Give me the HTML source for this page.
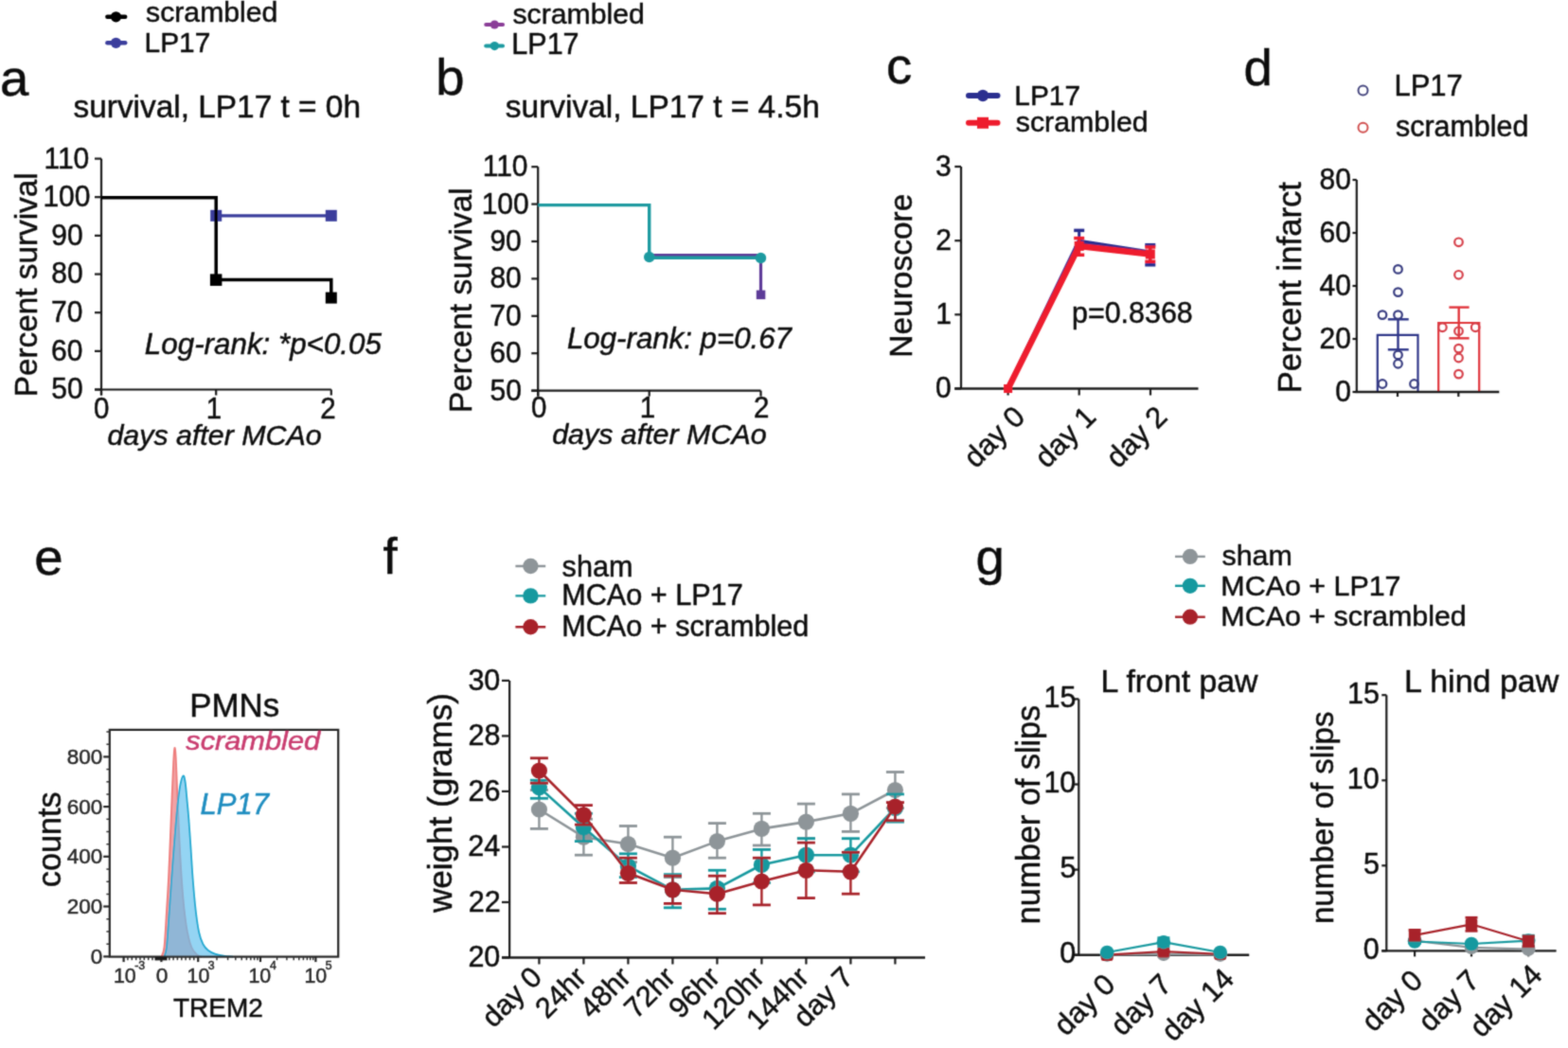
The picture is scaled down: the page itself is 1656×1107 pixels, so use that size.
<!DOCTYPE html>
<html><head><meta charset="utf-8"><title>Figure</title>
<style>
html,body{margin:0;padding:0;background:#fff;overflow:hidden;}
svg{display:block;}
text{font-family:'Liberation Sans', Arial, Helvetica, sans-serif;}
</style></head>
<body>
<svg width="1656" height="1107" viewBox="0 0 1656 1107">
<defs><filter id="soft" x="0" y="0" width="1656" height="1107" filterUnits="userSpaceOnUse"><feConvolveMatrix order="3" kernelMatrix="0.0622 0.2494 0.0622 0.2494 1.0000 0.2494 0.0622 0.2494 0.0622" edgeMode="none"/></filter></defs>
<rect width="1656" height="1107" fill="#fff"/>
<g filter="url(#soft)">
<line x1="113.4" y1="17.8" x2="132.2" y2="17.8" stroke="#000" stroke-width="4.5" stroke-linecap="round"/>
<circle cx="122.5" cy="17.8" r="5.6" fill="#000" stroke="none" stroke-width="0"/>
<line x1="113.4" y1="45.3" x2="132.2" y2="45.3" stroke="#3a3d9c" stroke-width="4.5" stroke-linecap="round"/>
<circle cx="122.5" cy="45.3" r="5.6" fill="#3a3d9c" stroke="none" stroke-width="0"/>
<text transform="translate(154.09,23.00)" font-size="30.21" text-anchor="start" fill="#111" stroke="#111" stroke-width="0.5">scrambled</text>
<text transform="translate(152.61,55.00)" font-size="29.84" text-anchor="start" fill="#111" stroke="#111" stroke-width="0.5">LP17</text>
<text transform="translate(0.12,100.60)" font-size="54.50" text-anchor="start" fill="#111" stroke="#111" stroke-width="0.5">a</text>
<text transform="translate(77.50,124.00)" font-size="33.40" text-anchor="start" fill="#111" stroke="#111" stroke-width="0.5">survival, LP17 t = 0h</text>
<line x1="107.0" y1="167.6" x2="107.0" y2="417.5" stroke="#1a1a1a" stroke-width="2.2" stroke-linecap="butt"/>
<line x1="100.0" y1="411.5" x2="349.8" y2="411.5" stroke="#1a1a1a" stroke-width="2.2" stroke-linecap="butt"/>
<line x1="100.0" y1="167.6" x2="107.0" y2="167.6" stroke="#1a1a1a" stroke-width="2.2" stroke-linecap="butt"/>
<text transform="translate(46.48,177.50) scale(1.000,1.040)" font-size="30.00" text-anchor="start" fill="#111" stroke="#111" stroke-width="0.5">110</text>
<line x1="100.0" y1="208.2" x2="107.0" y2="208.2" stroke="#1a1a1a" stroke-width="2.2" stroke-linecap="butt"/>
<text transform="translate(45.42,218.15) scale(1.000,1.040)" font-size="30.00" text-anchor="start" fill="#111" stroke="#111" stroke-width="0.5">100</text>
<line x1="100.0" y1="248.9" x2="107.0" y2="248.9" stroke="#1a1a1a" stroke-width="2.2" stroke-linecap="butt"/>
<text transform="translate(54.20,258.80) scale(1.000,1.040)" font-size="30.00" text-anchor="start" fill="#111" stroke="#111" stroke-width="0.5">90</text>
<line x1="100.0" y1="289.6" x2="107.0" y2="289.6" stroke="#1a1a1a" stroke-width="2.2" stroke-linecap="butt"/>
<text transform="translate(54.20,299.45) scale(1.000,1.040)" font-size="30.00" text-anchor="start" fill="#111" stroke="#111" stroke-width="0.5">80</text>
<line x1="100.0" y1="330.2" x2="107.0" y2="330.2" stroke="#1a1a1a" stroke-width="2.2" stroke-linecap="butt"/>
<text transform="translate(54.12,340.10) scale(1.000,1.040)" font-size="30.00" text-anchor="start" fill="#111" stroke="#111" stroke-width="0.5">70</text>
<line x1="100.0" y1="370.9" x2="107.0" y2="370.9" stroke="#1a1a1a" stroke-width="2.2" stroke-linecap="butt"/>
<text transform="translate(54.12,380.75) scale(1.000,1.040)" font-size="30.00" text-anchor="start" fill="#111" stroke="#111" stroke-width="0.5">60</text>
<line x1="100.0" y1="411.5" x2="107.0" y2="411.5" stroke="#1a1a1a" stroke-width="2.2" stroke-linecap="butt"/>
<text transform="translate(54.27,421.40) scale(1.000,1.040)" font-size="30.00" text-anchor="start" fill="#111" stroke="#111" stroke-width="0.5">50</text>
<line x1="107.0" y1="411.5" x2="107.0" y2="417.5" stroke="#1a1a1a" stroke-width="2.2" stroke-linecap="butt"/>
<line x1="228.2" y1="411.5" x2="228.2" y2="417.5" stroke="#1a1a1a" stroke-width="2.2" stroke-linecap="butt"/>
<line x1="349.8" y1="411.5" x2="349.8" y2="417.5" stroke="#1a1a1a" stroke-width="2.2" stroke-linecap="butt"/>
<text transform="translate(98.94,441.50) scale(1.000,1.040)" font-size="29.50" text-anchor="start" fill="#111" stroke="#111" stroke-width="0.5">0</text>
<text transform="translate(217.87,441.50) scale(1.000,1.040)" font-size="29.50" text-anchor="start" fill="#111" stroke="#111" stroke-width="0.5">1</text>
<text transform="translate(338.21,441.50) scale(1.000,1.040)" font-size="29.50" text-anchor="start" fill="#111" stroke="#111" stroke-width="0.5">2</text>
<text transform="translate(113.44,469.50)" font-size="30.38" text-anchor="start" fill="#111" stroke="#111" stroke-width="0.5" font-style="italic">days after MCAo</text>
<text transform="translate(38.80,419.26) rotate(-90)" font-size="33.31" text-anchor="start" fill="#111" stroke="#111" stroke-width="0.5">Percent survival</text>
<polyline points="228.2,227.8 349.8,227.8" fill="none" stroke="#3a3d9c" stroke-width="3.2" stroke-linejoin="miter" stroke-linecap="butt"/>
<rect x="222.2" y="221.8" width="12.0" height="12.0" fill="#3a3d9c" stroke="none" stroke-width="0"/>
<rect x="343.8" y="221.8" width="12.0" height="12.0" fill="#3a3d9c" stroke="none" stroke-width="0"/>
<polyline points="107.0,208.7 228.2,208.7 228.2,295.6 349.8,295.6 349.8,314.6" fill="none" stroke="#000" stroke-width="3.5" stroke-linejoin="miter" stroke-linecap="butt"/>
<rect x="221.9" y="289.4" width="12.5" height="12.5" fill="#000" stroke="none" stroke-width="0"/>
<rect x="343.8" y="308.6" width="12.0" height="12.0" fill="#000" stroke="none" stroke-width="0"/>
<text transform="translate(152.86,374.40)" font-size="31.35" text-anchor="start" fill="#111" stroke="#111" stroke-width="0.5" font-style="italic">Log-rank: *p&lt;0.05</text>
<line x1="513.2" y1="26.0" x2="531.0" y2="26.0" stroke="#8a3c97" stroke-width="4" stroke-linecap="round"/>
<circle cx="522.3" cy="26.0" r="4.6" fill="#8a3c97" stroke="none" stroke-width="0"/>
<line x1="513.2" y1="48.6" x2="531.0" y2="48.6" stroke="#1b9aa0" stroke-width="4" stroke-linecap="round"/>
<circle cx="522.3" cy="48.6" r="4.6" fill="#1b9aa0" stroke="none" stroke-width="0"/>
<text transform="translate(541.49,24.90)" font-size="30.19" text-anchor="start" fill="#111" stroke="#111" stroke-width="0.5">scrambled</text>
<text transform="translate(540.36,57.40)" font-size="30.48" text-anchor="start" fill="#111" stroke="#111" stroke-width="0.5">LP17</text>
<text transform="translate(460.36,99.60)" font-size="54.50" text-anchor="start" fill="#111" stroke="#111" stroke-width="0.5">b</text>
<text transform="translate(533.80,123.70)" font-size="33.46" text-anchor="start" fill="#111" stroke="#111" stroke-width="0.5">survival, LP17 t = 4.5h</text>
<line x1="568.2" y1="176.2" x2="568.2" y2="418.6" stroke="#1a1a1a" stroke-width="2.2" stroke-linecap="butt"/>
<line x1="561.3" y1="412.6" x2="803.5" y2="412.6" stroke="#1a1a1a" stroke-width="2.2" stroke-linecap="butt"/>
<line x1="561.3" y1="176.2" x2="568.2" y2="176.2" stroke="#1a1a1a" stroke-width="2.2" stroke-linecap="butt"/>
<text transform="translate(509.68,186.10) scale(1.000,1.040)" font-size="30.00" text-anchor="start" fill="#111" stroke="#111" stroke-width="0.5">110</text>
<line x1="561.3" y1="215.6" x2="568.2" y2="215.6" stroke="#1a1a1a" stroke-width="2.2" stroke-linecap="butt"/>
<text transform="translate(508.63,225.50) scale(1.000,1.040)" font-size="30.00" text-anchor="start" fill="#111" stroke="#111" stroke-width="0.5">100</text>
<line x1="561.3" y1="255.0" x2="568.2" y2="255.0" stroke="#1a1a1a" stroke-width="2.2" stroke-linecap="butt"/>
<text transform="translate(517.40,264.90) scale(1.000,1.040)" font-size="30.00" text-anchor="start" fill="#111" stroke="#111" stroke-width="0.5">90</text>
<line x1="561.3" y1="294.4" x2="568.2" y2="294.4" stroke="#1a1a1a" stroke-width="2.2" stroke-linecap="butt"/>
<text transform="translate(517.40,304.30) scale(1.000,1.040)" font-size="30.00" text-anchor="start" fill="#111" stroke="#111" stroke-width="0.5">80</text>
<line x1="561.3" y1="333.8" x2="568.2" y2="333.8" stroke="#1a1a1a" stroke-width="2.2" stroke-linecap="butt"/>
<text transform="translate(517.33,343.70) scale(1.000,1.040)" font-size="30.00" text-anchor="start" fill="#111" stroke="#111" stroke-width="0.5">70</text>
<line x1="561.3" y1="373.2" x2="568.2" y2="373.2" stroke="#1a1a1a" stroke-width="2.2" stroke-linecap="butt"/>
<text transform="translate(517.33,383.10) scale(1.000,1.040)" font-size="30.00" text-anchor="start" fill="#111" stroke="#111" stroke-width="0.5">60</text>
<line x1="561.3" y1="412.6" x2="568.2" y2="412.6" stroke="#1a1a1a" stroke-width="2.2" stroke-linecap="butt"/>
<text transform="translate(517.48,422.50) scale(1.000,1.040)" font-size="30.00" text-anchor="start" fill="#111" stroke="#111" stroke-width="0.5">50</text>
<line x1="568.2" y1="412.6" x2="568.2" y2="418.6" stroke="#1a1a1a" stroke-width="2.2" stroke-linecap="butt"/>
<line x1="685.7" y1="412.6" x2="685.7" y2="418.6" stroke="#1a1a1a" stroke-width="2.2" stroke-linecap="butt"/>
<line x1="803.5" y1="412.6" x2="803.5" y2="418.6" stroke="#1a1a1a" stroke-width="2.2" stroke-linecap="butt"/>
<text transform="translate(560.94,441.20) scale(1.000,1.040)" font-size="29.50" text-anchor="start" fill="#111" stroke="#111" stroke-width="0.5">0</text>
<text transform="translate(675.87,441.20) scale(1.000,1.040)" font-size="29.50" text-anchor="start" fill="#111" stroke="#111" stroke-width="0.5">1</text>
<text transform="translate(796.11,441.20) scale(1.000,1.040)" font-size="29.50" text-anchor="start" fill="#111" stroke="#111" stroke-width="0.5">2</text>
<text transform="translate(583.14,469.20)" font-size="30.42" text-anchor="start" fill="#111" stroke="#111" stroke-width="0.5" font-style="italic">days after MCAo</text>
<text transform="translate(498.00,436.08) rotate(-90)" font-size="33.44" text-anchor="start" fill="#111" stroke="#111" stroke-width="0.5">Percent survival</text>
<polyline points="685.7,269.5 803.5,269.5 803.5,311.4" fill="none" stroke="#5d3a98" stroke-width="3.2" stroke-linejoin="miter" stroke-linecap="butt"/>
<rect x="798.8" y="306.6" width="9.5" height="9.5" fill="#5d3a98" stroke="none" stroke-width="0"/>
<polyline points="568.2,216.6 685.7,216.6 685.7,272.2 803.5,272.2" fill="none" stroke="#1b9aa0" stroke-width="3.4" stroke-linejoin="miter" stroke-linecap="butt"/>
<circle cx="685.7" cy="271.5" r="5.7" fill="#1b9aa0" stroke="none" stroke-width="0"/>
<circle cx="803.5" cy="272.5" r="5.7" fill="#1b9aa0" stroke="none" stroke-width="0"/>
<text transform="translate(598.96,367.70)" font-size="31.24" text-anchor="start" fill="#111" stroke="#111" stroke-width="0.5" font-style="italic">Log-rank: p=0.67</text>
<text transform="translate(936.02,87.70)" font-size="54.50" text-anchor="start" fill="#111" stroke="#111" stroke-width="0.5">c</text>
<line x1="1023.0" y1="101.0" x2="1053.5" y2="101.0" stroke="#2b2f8f" stroke-width="6" stroke-linecap="round"/>
<circle cx="1038.0" cy="101.0" r="6.2" fill="#2b2f8f" stroke="none" stroke-width="0"/>
<line x1="1023.0" y1="129.8" x2="1053.5" y2="129.8" stroke="#ee1f2d" stroke-width="6" stroke-linecap="round"/>
<rect x="1032.0" y="123.8" width="12.0" height="12.0" fill="#ee1f2d" stroke="none" stroke-width="0"/>
<text transform="translate(1071.31,110.60)" font-size="29.84" text-anchor="start" fill="#111" stroke="#111" stroke-width="0.5">LP17</text>
<text transform="translate(1072.79,138.50)" font-size="30.32" text-anchor="start" fill="#111" stroke="#111" stroke-width="0.5">scrambled</text>
<line x1="1015.0" y1="176.0" x2="1015.0" y2="410.5" stroke="#1a1a1a" stroke-width="2.2" stroke-linecap="butt"/>
<line x1="1008.3" y1="410.5" x2="1265.5" y2="410.5" stroke="#1a1a1a" stroke-width="2.4" stroke-linecap="butt"/>
<line x1="1008.3" y1="410.5" x2="1015.0" y2="410.5" stroke="#1a1a1a" stroke-width="2.2" stroke-linecap="butt"/>
<text transform="translate(987.90,420.10) scale(1.000,1.040)" font-size="30.00" text-anchor="start" fill="#111" stroke="#111" stroke-width="0.5">0</text>
<line x1="1008.3" y1="332.3" x2="1015.0" y2="332.3" stroke="#1a1a1a" stroke-width="2.2" stroke-linecap="butt"/>
<text transform="translate(988.20,341.93) scale(1.000,1.040)" font-size="30.00" text-anchor="start" fill="#111" stroke="#111" stroke-width="0.5">1</text>
<line x1="1008.3" y1="254.2" x2="1015.0" y2="254.2" stroke="#1a1a1a" stroke-width="2.2" stroke-linecap="butt"/>
<text transform="translate(988.35,263.77) scale(1.000,1.040)" font-size="30.00" text-anchor="start" fill="#111" stroke="#111" stroke-width="0.5">2</text>
<line x1="1008.3" y1="176.0" x2="1015.0" y2="176.0" stroke="#1a1a1a" stroke-width="2.2" stroke-linecap="butt"/>
<text transform="translate(988.05,185.60) scale(1.000,1.040)" font-size="30.00" text-anchor="start" fill="#111" stroke="#111" stroke-width="0.5">3</text>
<line x1="1064.6" y1="410.5" x2="1064.6" y2="417.5" stroke="#1a1a1a" stroke-width="2.2" stroke-linecap="butt"/>
<text transform="translate(1084.10,442.00) rotate(-45)" font-size="31.00" text-anchor="end" fill="#111" stroke="#111" stroke-width="0.5">day 0</text>
<line x1="1139.7" y1="410.5" x2="1139.7" y2="417.5" stroke="#1a1a1a" stroke-width="2.2" stroke-linecap="butt"/>
<text transform="translate(1159.20,442.00) rotate(-45)" font-size="31.00" text-anchor="end" fill="#111" stroke="#111" stroke-width="0.5">day 1</text>
<line x1="1215.0" y1="410.5" x2="1215.0" y2="417.5" stroke="#1a1a1a" stroke-width="2.2" stroke-linecap="butt"/>
<text transform="translate(1234.50,442.00) rotate(-45)" font-size="31.00" text-anchor="end" fill="#111" stroke="#111" stroke-width="0.5">day 2</text>
<text transform="translate(963.40,377.68) rotate(-90)" font-size="33.46" text-anchor="start" fill="#111" stroke="#111" stroke-width="0.5">Neuroscore</text>
<line x1="1139.7" y1="243.4" x2="1139.7" y2="262.0" stroke="#2b2f8f" stroke-width="3" stroke-linecap="butt"/>
<line x1="1134.2" y1="243.4" x2="1145.2" y2="243.4" stroke="#2b2f8f" stroke-width="3.5" stroke-linecap="butt"/>
<line x1="1134.2" y1="262.0" x2="1145.2" y2="262.0" stroke="#2b2f8f" stroke-width="3.5" stroke-linecap="butt"/>
<line x1="1214.8" y1="258.7" x2="1214.8" y2="279.8" stroke="#2b2f8f" stroke-width="3" stroke-linecap="butt"/>
<line x1="1209.3" y1="258.7" x2="1220.3" y2="258.7" stroke="#2b2f8f" stroke-width="3.5" stroke-linecap="butt"/>
<line x1="1209.3" y1="279.8" x2="1220.3" y2="279.8" stroke="#2b2f8f" stroke-width="3.5" stroke-linecap="butt"/>
<polyline points="1064.6,410.5 1139.7,255.2 1214.8,267.0" fill="none" stroke="#2b2f8f" stroke-width="5" stroke-linejoin="round" stroke-linecap="round"/>
<line x1="1139.7" y1="251.6" x2="1139.7" y2="269.3" stroke="#ee1f2d" stroke-width="3" stroke-linecap="butt"/>
<line x1="1134.2" y1="251.6" x2="1145.2" y2="251.6" stroke="#ee1f2d" stroke-width="3.5" stroke-linecap="butt"/>
<line x1="1134.2" y1="269.3" x2="1145.2" y2="269.3" stroke="#ee1f2d" stroke-width="3.5" stroke-linecap="butt"/>
<line x1="1214.8" y1="261.0" x2="1214.8" y2="276.3" stroke="#ee1f2d" stroke-width="3" stroke-linecap="butt"/>
<line x1="1209.3" y1="261.0" x2="1220.3" y2="261.0" stroke="#ee1f2d" stroke-width="3.5" stroke-linecap="butt"/>
<line x1="1209.3" y1="276.3" x2="1220.3" y2="276.3" stroke="#ee1f2d" stroke-width="3.5" stroke-linecap="butt"/>
<polyline points="1064.6,410.5 1139.7,259.9 1214.8,268.5" fill="none" stroke="#ee1f2d" stroke-width="6.5" stroke-linejoin="round" stroke-linecap="round"/>
<rect x="1060.1" y="406.0" width="9.0" height="9.0" fill="#ee1f2d" stroke="none" stroke-width="0"/>
<rect x="1134.7" y="254.9" width="10.0" height="10.0" fill="#ee1f2d" stroke="none" stroke-width="0"/>
<rect x="1209.8" y="263.5" width="10.0" height="10.0" fill="#ee1f2d" stroke="none" stroke-width="0"/>
<text transform="translate(1132.02,341.20)" font-size="30.43" text-anchor="start" fill="#111" stroke="#111" stroke-width="0.5">p=0.8368</text>
<text transform="translate(1313.52,89.90)" font-size="54.50" text-anchor="start" fill="#111" stroke="#111" stroke-width="0.5">d</text>
<circle cx="1439.5" cy="95.4" r="5.0" fill="none" stroke="#45467e" stroke-width="2"/>
<circle cx="1439.5" cy="134.8" r="5.0" fill="none" stroke="#d0504f" stroke-width="2"/>
<text transform="translate(1472.42,101.20)" font-size="30.98" text-anchor="start" fill="#111" stroke="#111" stroke-width="0.5">LP17</text>
<text transform="translate(1473.99,144.40)" font-size="30.43" text-anchor="start" fill="#111" stroke="#111" stroke-width="0.5">scrambled</text>
<line x1="1432.8" y1="190.0" x2="1432.8" y2="414.0" stroke="#1a1a1a" stroke-width="2.2" stroke-linecap="butt"/>
<line x1="1428.5" y1="414.0" x2="1432.8" y2="414.0" stroke="#1a1a1a" stroke-width="2.2" stroke-linecap="butt"/>
<text transform="translate(1410.20,423.90) scale(1.000,1.040)" font-size="30.00" text-anchor="start" fill="#111" stroke="#111" stroke-width="0.5">0</text>
<line x1="1428.5" y1="358.0" x2="1432.8" y2="358.0" stroke="#1a1a1a" stroke-width="2.2" stroke-linecap="butt"/>
<text transform="translate(1393.55,367.90) scale(1.000,1.040)" font-size="30.00" text-anchor="start" fill="#111" stroke="#111" stroke-width="0.5">20</text>
<line x1="1428.5" y1="302.0" x2="1432.8" y2="302.0" stroke="#1a1a1a" stroke-width="2.2" stroke-linecap="butt"/>
<text transform="translate(1393.55,311.90) scale(1.000,1.040)" font-size="30.00" text-anchor="start" fill="#111" stroke="#111" stroke-width="0.5">40</text>
<line x1="1428.5" y1="246.0" x2="1432.8" y2="246.0" stroke="#1a1a1a" stroke-width="2.2" stroke-linecap="butt"/>
<text transform="translate(1393.55,255.90) scale(1.000,1.040)" font-size="30.00" text-anchor="start" fill="#111" stroke="#111" stroke-width="0.5">60</text>
<line x1="1428.5" y1="190.0" x2="1432.8" y2="190.0" stroke="#1a1a1a" stroke-width="2.2" stroke-linecap="butt"/>
<text transform="translate(1393.55,199.90) scale(1.000,1.040)" font-size="30.00" text-anchor="start" fill="#111" stroke="#111" stroke-width="0.5">80</text>
<line x1="1476.0" y1="414.0" x2="1476.0" y2="419.0" stroke="#1a1a1a" stroke-width="2.2" stroke-linecap="butt"/>
<line x1="1540.3" y1="414.0" x2="1540.3" y2="419.0" stroke="#1a1a1a" stroke-width="2.2" stroke-linecap="butt"/>
<text transform="translate(1374.30,415.27) rotate(-90)" font-size="34.61" text-anchor="start" fill="#111" stroke="#111" stroke-width="0.5">Percent infarct</text>
<polyline points="1454.8,414.0 1454.8,353.8 1497.5,353.8 1497.5,414.0" fill="none" stroke="#2f3588" stroke-width="2.2" stroke-linejoin="miter" stroke-linecap="butt"/>
<polyline points="1519.2,414.0 1519.2,341.0 1562.2,341.0 1562.2,414.0" fill="none" stroke="#e0353b" stroke-width="2.2" stroke-linejoin="miter" stroke-linecap="butt"/>
<line x1="1476.5" y1="337.3" x2="1476.5" y2="369.3" stroke="#2f3588" stroke-width="2.4" stroke-linecap="butt"/>
<line x1="1465.8" y1="337.3" x2="1487.7" y2="337.3" stroke="#2f3588" stroke-width="2.4" stroke-linecap="butt"/>
<line x1="1465.8" y1="369.3" x2="1487.7" y2="369.3" stroke="#2f3588" stroke-width="2.4" stroke-linecap="butt"/>
<line x1="1540.7" y1="324.6" x2="1540.7" y2="357.3" stroke="#e0353b" stroke-width="2.4" stroke-linecap="butt"/>
<line x1="1530.4" y1="324.6" x2="1551.6" y2="324.6" stroke="#e0353b" stroke-width="2.4" stroke-linecap="butt"/>
<line x1="1530.4" y1="357.3" x2="1551.6" y2="357.3" stroke="#e0353b" stroke-width="2.4" stroke-linecap="butt"/>
<circle cx="1476.5" cy="284.4" r="4.3" fill="none" stroke="#383c80" stroke-width="2.2"/>
<circle cx="1476.5" cy="308.6" r="4.3" fill="none" stroke="#383c80" stroke-width="2.2"/>
<circle cx="1460.0" cy="332.6" r="4.3" fill="none" stroke="#383c80" stroke-width="2.2"/>
<circle cx="1476.5" cy="332.6" r="4.3" fill="none" stroke="#383c80" stroke-width="2.2"/>
<circle cx="1476.5" cy="374.9" r="4.3" fill="none" stroke="#383c80" stroke-width="2.2"/>
<circle cx="1476.5" cy="384.3" r="4.3" fill="none" stroke="#383c80" stroke-width="2.2"/>
<circle cx="1460.0" cy="405.5" r="4.3" fill="none" stroke="#383c80" stroke-width="2.2"/>
<circle cx="1493.5" cy="405.5" r="4.3" fill="none" stroke="#383c80" stroke-width="2.2"/>
<circle cx="1540.5" cy="255.8" r="4.3" fill="none" stroke="#d6404a" stroke-width="2.2"/>
<circle cx="1540.5" cy="290.3" r="4.3" fill="none" stroke="#d6404a" stroke-width="2.2"/>
<circle cx="1523.4" cy="345.8" r="4.3" fill="none" stroke="#d6404a" stroke-width="2.2"/>
<circle cx="1540.5" cy="349.8" r="4.3" fill="none" stroke="#d6404a" stroke-width="2.2"/>
<circle cx="1558.2" cy="345.8" r="4.3" fill="none" stroke="#d6404a" stroke-width="2.2"/>
<circle cx="1540.5" cy="368.1" r="4.3" fill="none" stroke="#d6404a" stroke-width="2.2"/>
<circle cx="1540.5" cy="378.0" r="4.3" fill="none" stroke="#d6404a" stroke-width="2.2"/>
<circle cx="1540.5" cy="395.1" r="4.3" fill="none" stroke="#d6404a" stroke-width="2.2"/>
<line x1="1431.7" y1="414.0" x2="1583.3" y2="414.0" stroke="#1a1a1a" stroke-width="2.4" stroke-linecap="butt"/>
<text transform="translate(36.22,607.20)" font-size="54.50" text-anchor="start" fill="#111" stroke="#111" stroke-width="0.5">e</text>
<text transform="translate(200.21,757.20)" font-size="34.93" text-anchor="start" fill="#111" stroke="#111" stroke-width="0.5">PMNs</text>
<path d="M170.50,1010.60 C171.00,1008.83 172.58,1008.10 173.50,1000.00 C174.42,991.90 175.25,974.00 176.00,962.00 C176.75,950.00 177.33,941.33 178.00,928.00 C178.67,914.67 179.40,896.33 180.00,882.00 C180.60,867.67 181.07,854.83 181.60,842.00 C182.13,829.17 182.73,813.67 183.20,805.00 C183.67,796.33 183.98,790.83 184.40,790.00 C184.82,789.17 185.18,791.17 185.70,800.00 C186.22,808.83 186.85,828.00 187.50,843.00 C188.15,858.00 188.88,875.83 189.60,890.00 C190.32,904.17 190.98,916.33 191.80,928.00 C192.62,939.67 193.47,950.50 194.50,960.00 C195.53,969.50 196.67,978.17 198.00,985.00 C199.33,991.83 200.83,997.08 202.50,1001.00 C204.17,1004.92 206.25,1006.90 208.00,1008.50 C209.75,1010.10 212.17,1010.25 213.00,1010.60 Z" fill="#f2a2a4"/>
<path d="M170.50,1010.60 C171.00,1008.83 172.58,1008.10 173.50,1000.00 C174.42,991.90 175.25,974.00 176.00,962.00 C176.75,950.00 177.33,941.33 178.00,928.00 C178.67,914.67 179.40,896.33 180.00,882.00 C180.60,867.67 181.07,854.83 181.60,842.00 C182.13,829.17 182.73,813.67 183.20,805.00 C183.67,796.33 183.98,790.83 184.40,790.00 C184.82,789.17 185.18,791.17 185.70,800.00 C186.22,808.83 186.85,828.00 187.50,843.00 C188.15,858.00 188.88,875.83 189.60,890.00 C190.32,904.17 190.98,916.33 191.80,928.00 C192.62,939.67 193.47,950.50 194.50,960.00 C195.53,969.50 196.67,978.17 198.00,985.00 C199.33,991.83 200.83,997.08 202.50,1001.00 C204.17,1004.92 206.25,1006.90 208.00,1008.50 C209.75,1010.10 212.17,1010.25 213.00,1010.60" fill="none" stroke="#ee7d7c" stroke-width="1.8"/>
<path d="M173.50,1010.60 C173.92,1008.83 175.15,1007.60 176.00,1000.00 C176.85,992.40 177.73,977.00 178.60,965.00 C179.47,953.00 180.27,940.83 181.20,928.00 C182.13,915.17 183.20,900.50 184.20,888.00 C185.20,875.50 186.20,862.67 187.20,853.00 C188.20,843.33 189.15,835.58 190.20,830.00 C191.25,824.42 192.60,820.17 193.50,819.50 C194.40,818.83 194.93,821.75 195.60,826.00 C196.27,830.25 196.87,838.33 197.50,845.00 C198.13,851.67 198.73,857.50 199.40,866.00 C200.07,874.50 200.80,885.67 201.50,896.00 C202.20,906.33 202.75,917.17 203.60,928.00 C204.45,938.83 205.50,951.50 206.60,961.00 C207.70,970.50 208.88,978.92 210.20,985.00 C211.52,991.08 212.87,994.33 214.50,997.50 C216.13,1000.67 217.92,1002.32 220.00,1004.00 C222.08,1005.68 224.33,1006.67 227.00,1007.60 C229.67,1008.53 232.83,1009.10 236.00,1009.60 C239.17,1010.10 244.33,1010.43 246.00,1010.60 Z" fill="#62c0ee" fill-opacity="0.68"/>
<path d="M173.50,1010.60 C173.92,1008.83 175.15,1007.60 176.00,1000.00 C176.85,992.40 177.73,977.00 178.60,965.00 C179.47,953.00 180.27,940.83 181.20,928.00 C182.13,915.17 183.20,900.50 184.20,888.00 C185.20,875.50 186.20,862.67 187.20,853.00 C188.20,843.33 189.15,835.58 190.20,830.00 C191.25,824.42 192.60,820.17 193.50,819.50 C194.40,818.83 194.93,821.75 195.60,826.00 C196.27,830.25 196.87,838.33 197.50,845.00 C198.13,851.67 198.73,857.50 199.40,866.00 C200.07,874.50 200.80,885.67 201.50,896.00 C202.20,906.33 202.75,917.17 203.60,928.00 C204.45,938.83 205.50,951.50 206.60,961.00 C207.70,970.50 208.88,978.92 210.20,985.00 C211.52,991.08 212.87,994.33 214.50,997.50 C216.13,1000.67 217.92,1002.32 220.00,1004.00 C222.08,1005.68 224.33,1006.67 227.00,1007.60 C229.67,1008.53 232.83,1009.10 236.00,1009.60 C239.17,1010.10 244.33,1010.43 246.00,1010.60" fill="none" stroke="#22a8d0" stroke-width="1.8"/>
<rect x="115.8" y="770.9" width="241.4" height="239.7" fill="none" stroke="#262626" stroke-width="2.2"/>
<line x1="109.2" y1="1010.4" x2="115.8" y2="1010.4" stroke="#262626" stroke-width="2.2" stroke-linecap="butt"/>
<text transform="translate(95.70,1017.87) scale(0.998,1.000)" font-size="22.54" text-anchor="start" fill="#2a2a2a" stroke="#2a2a2a" stroke-width="0.5">0</text>
<line x1="109.2" y1="957.5" x2="115.8" y2="957.5" stroke="#262626" stroke-width="2.2" stroke-linecap="butt"/>
<text transform="translate(70.73,964.97) scale(0.998,1.000)" font-size="22.54" text-anchor="start" fill="#2a2a2a" stroke="#2a2a2a" stroke-width="0.5">200</text>
<line x1="109.2" y1="904.8" x2="115.8" y2="904.8" stroke="#262626" stroke-width="2.2" stroke-linecap="butt"/>
<text transform="translate(70.73,912.27) scale(0.998,1.000)" font-size="22.54" text-anchor="start" fill="#2a2a2a" stroke="#2a2a2a" stroke-width="0.5">400</text>
<line x1="109.2" y1="852.1" x2="115.8" y2="852.1" stroke="#262626" stroke-width="2.2" stroke-linecap="butt"/>
<text transform="translate(70.73,859.57) scale(0.998,1.000)" font-size="22.54" text-anchor="start" fill="#2a2a2a" stroke="#2a2a2a" stroke-width="0.5">600</text>
<line x1="109.2" y1="799.4" x2="115.8" y2="799.4" stroke="#262626" stroke-width="2.2" stroke-linecap="butt"/>
<text transform="translate(70.73,806.87) scale(0.998,1.000)" font-size="22.54" text-anchor="start" fill="#2a2a2a" stroke="#2a2a2a" stroke-width="0.5">800</text>
<line x1="112.4" y1="997.2" x2="115.8" y2="997.2" stroke="#333" stroke-width="1.5" stroke-linecap="butt"/>
<line x1="112.4" y1="984.0" x2="115.8" y2="984.0" stroke="#333" stroke-width="1.5" stroke-linecap="butt"/>
<line x1="112.4" y1="970.8" x2="115.8" y2="970.8" stroke="#333" stroke-width="1.5" stroke-linecap="butt"/>
<line x1="112.4" y1="944.5" x2="115.8" y2="944.5" stroke="#333" stroke-width="1.5" stroke-linecap="butt"/>
<line x1="112.4" y1="931.3" x2="115.8" y2="931.3" stroke="#333" stroke-width="1.5" stroke-linecap="butt"/>
<line x1="112.4" y1="918.1" x2="115.8" y2="918.1" stroke="#333" stroke-width="1.5" stroke-linecap="butt"/>
<line x1="112.4" y1="891.7" x2="115.8" y2="891.7" stroke="#333" stroke-width="1.5" stroke-linecap="butt"/>
<line x1="112.4" y1="878.5" x2="115.8" y2="878.5" stroke="#333" stroke-width="1.5" stroke-linecap="butt"/>
<line x1="112.4" y1="865.3" x2="115.8" y2="865.3" stroke="#333" stroke-width="1.5" stroke-linecap="butt"/>
<line x1="112.4" y1="839.0" x2="115.8" y2="839.0" stroke="#333" stroke-width="1.5" stroke-linecap="butt"/>
<line x1="112.4" y1="825.8" x2="115.8" y2="825.8" stroke="#333" stroke-width="1.5" stroke-linecap="butt"/>
<line x1="112.4" y1="812.6" x2="115.8" y2="812.6" stroke="#333" stroke-width="1.5" stroke-linecap="butt"/>
<line x1="112.4" y1="786.2" x2="115.8" y2="786.2" stroke="#333" stroke-width="1.5" stroke-linecap="butt"/>
<line x1="112.4" y1="773.0" x2="115.8" y2="773.0" stroke="#333" stroke-width="1.5" stroke-linecap="butt"/>
<line x1="130.6" y1="1010.6" x2="130.6" y2="1016.1" stroke="#262626" stroke-width="2.2" stroke-linecap="butt"/>
<line x1="170.4" y1="1010.6" x2="170.4" y2="1016.1" stroke="#262626" stroke-width="2.2" stroke-linecap="butt"/>
<line x1="209.2" y1="1010.6" x2="209.2" y2="1016.1" stroke="#262626" stroke-width="2.2" stroke-linecap="butt"/>
<line x1="275.0" y1="1010.6" x2="275.0" y2="1016.1" stroke="#262626" stroke-width="2.2" stroke-linecap="butt"/>
<line x1="333.4" y1="1010.6" x2="333.4" y2="1016.1" stroke="#262626" stroke-width="2.2" stroke-linecap="butt"/>
<line x1="134.9" y1="1010.6" x2="134.9" y2="1014.2" stroke="#333" stroke-width="1.5" stroke-linecap="butt"/>
<line x1="139.3" y1="1010.6" x2="139.3" y2="1014.2" stroke="#333" stroke-width="1.5" stroke-linecap="butt"/>
<line x1="143.7" y1="1010.6" x2="143.7" y2="1014.2" stroke="#333" stroke-width="1.5" stroke-linecap="butt"/>
<line x1="148.0" y1="1010.6" x2="148.0" y2="1014.2" stroke="#333" stroke-width="1.5" stroke-linecap="butt"/>
<line x1="152.3" y1="1010.6" x2="152.3" y2="1014.2" stroke="#333" stroke-width="1.5" stroke-linecap="butt"/>
<line x1="156.7" y1="1010.6" x2="156.7" y2="1014.2" stroke="#333" stroke-width="1.5" stroke-linecap="butt"/>
<line x1="161.0" y1="1010.6" x2="161.0" y2="1014.2" stroke="#333" stroke-width="1.5" stroke-linecap="butt"/>
<line x1="165.4" y1="1010.6" x2="165.4" y2="1014.2" stroke="#333" stroke-width="1.5" stroke-linecap="butt"/>
<line x1="204.8" y1="1010.6" x2="204.8" y2="1014.2" stroke="#333" stroke-width="1.5" stroke-linecap="butt"/>
<line x1="200.5" y1="1010.6" x2="200.5" y2="1014.2" stroke="#333" stroke-width="1.5" stroke-linecap="butt"/>
<line x1="196.1" y1="1010.6" x2="196.1" y2="1014.2" stroke="#333" stroke-width="1.5" stroke-linecap="butt"/>
<line x1="191.8" y1="1010.6" x2="191.8" y2="1014.2" stroke="#333" stroke-width="1.5" stroke-linecap="butt"/>
<line x1="187.4" y1="1010.6" x2="187.4" y2="1014.2" stroke="#333" stroke-width="1.5" stroke-linecap="butt"/>
<line x1="183.1" y1="1010.6" x2="183.1" y2="1014.2" stroke="#333" stroke-width="1.5" stroke-linecap="butt"/>
<line x1="178.8" y1="1010.6" x2="178.8" y2="1014.2" stroke="#333" stroke-width="1.5" stroke-linecap="butt"/>
<line x1="229.0" y1="1010.6" x2="229.0" y2="1014.2" stroke="#333" stroke-width="1.5" stroke-linecap="butt"/>
<line x1="240.6" y1="1010.6" x2="240.6" y2="1014.2" stroke="#333" stroke-width="1.5" stroke-linecap="butt"/>
<line x1="248.8" y1="1010.6" x2="248.8" y2="1014.2" stroke="#333" stroke-width="1.5" stroke-linecap="butt"/>
<line x1="255.2" y1="1010.6" x2="255.2" y2="1014.2" stroke="#333" stroke-width="1.5" stroke-linecap="butt"/>
<line x1="260.4" y1="1010.6" x2="260.4" y2="1014.2" stroke="#333" stroke-width="1.5" stroke-linecap="butt"/>
<line x1="264.8" y1="1010.6" x2="264.8" y2="1014.2" stroke="#333" stroke-width="1.5" stroke-linecap="butt"/>
<line x1="268.6" y1="1010.6" x2="268.6" y2="1014.2" stroke="#333" stroke-width="1.5" stroke-linecap="butt"/>
<line x1="272.0" y1="1010.6" x2="272.0" y2="1014.2" stroke="#333" stroke-width="1.5" stroke-linecap="butt"/>
<line x1="292.6" y1="1010.6" x2="292.6" y2="1014.2" stroke="#333" stroke-width="1.5" stroke-linecap="butt"/>
<line x1="302.9" y1="1010.6" x2="302.9" y2="1014.2" stroke="#333" stroke-width="1.5" stroke-linecap="butt"/>
<line x1="310.2" y1="1010.6" x2="310.2" y2="1014.2" stroke="#333" stroke-width="1.5" stroke-linecap="butt"/>
<line x1="315.8" y1="1010.6" x2="315.8" y2="1014.2" stroke="#333" stroke-width="1.5" stroke-linecap="butt"/>
<line x1="320.4" y1="1010.6" x2="320.4" y2="1014.2" stroke="#333" stroke-width="1.5" stroke-linecap="butt"/>
<line x1="324.4" y1="1010.6" x2="324.4" y2="1014.2" stroke="#333" stroke-width="1.5" stroke-linecap="butt"/>
<line x1="327.7" y1="1010.6" x2="327.7" y2="1014.2" stroke="#333" stroke-width="1.5" stroke-linecap="butt"/>
<line x1="330.7" y1="1010.6" x2="330.7" y2="1014.2" stroke="#333" stroke-width="1.5" stroke-linecap="butt"/>
<rect x="163.5" y="1010.6" width="13.0" height="3.8" fill="#1a1a1a" stroke="none" stroke-width="0"/>
<text transform="translate(119.89,1038.08) scale(0.956,1.000)" font-size="22.39" text-anchor="start" fill="#2a2a2a" stroke="#2a2a2a" stroke-width="0.5">10</text>
<text transform="translate(142.15,1024.28) scale(0.992,1.000)" font-size="12.39" text-anchor="start" fill="#2a2a2a" stroke="#2a2a2a" stroke-width="0.5">-3</text>
<text transform="translate(197.50,1038.08) scale(0.956,1.000)" font-size="22.39" text-anchor="start" fill="#2a2a2a" stroke="#2a2a2a" stroke-width="0.5">10</text>
<text transform="translate(219.81,1024.28) scale(0.992,1.000)" font-size="12.39" text-anchor="start" fill="#2a2a2a" stroke="#2a2a2a" stroke-width="0.5">3</text>
<text transform="translate(262.39,1038.08) scale(0.956,1.000)" font-size="22.39" text-anchor="start" fill="#2a2a2a" stroke="#2a2a2a" stroke-width="0.5">10</text>
<text transform="translate(284.95,1024.40) scale(0.964,1.000)" font-size="12.75" text-anchor="start" fill="#2a2a2a" stroke="#2a2a2a" stroke-width="0.5">4</text>
<text transform="translate(321.39,1038.08) scale(0.956,1.000)" font-size="22.39" text-anchor="start" fill="#2a2a2a" stroke="#2a2a2a" stroke-width="0.5">10</text>
<text transform="translate(343.71,1024.27) scale(0.978,1.000)" font-size="12.57" text-anchor="start" fill="#2a2a2a" stroke="#2a2a2a" stroke-width="0.5">5</text>
<text transform="translate(164.79,1038.08) scale(1.014,1.000)" font-size="22.39" text-anchor="start" fill="#2a2a2a" stroke="#2a2a2a" stroke-width="0.5">0</text>
<text transform="translate(182.94,1073.50)" font-size="28.01" text-anchor="start" fill="#111" stroke="#111" stroke-width="0.5">TREM2</text>
<text transform="translate(63.90,937.17) rotate(-90)" font-size="34.22" text-anchor="start" fill="#111" stroke="#111" stroke-width="0.5">counts</text>
<text transform="translate(196.25,792.12) scale(1.098,1.000)" font-size="28.03" text-anchor="start" fill="#c93d70" stroke="#c93d70" stroke-width="0.5" font-style="italic">scrambled</text>
<text transform="translate(211.57,860.20)" font-size="31.05" text-anchor="start" fill="#1f8dc0" stroke="#1f8dc0" stroke-width="0.5" font-style="italic">LP17</text>
<text transform="translate(404.48,606.10)" font-size="54.50" text-anchor="start" fill="#111" stroke="#111" stroke-width="0.5">f</text>
<line x1="544.4" y1="598.0" x2="576.2" y2="598.0" stroke="#8e9599" stroke-width="2.4" stroke-linecap="butt"/>
<circle cx="560.4" cy="598.0" r="8.2" fill="#8e9599" stroke="none" stroke-width="0"/>
<line x1="544.4" y1="629.4" x2="576.2" y2="629.4" stroke="#15999f" stroke-width="2.4" stroke-linecap="butt"/>
<circle cx="560.4" cy="629.4" r="8.2" fill="#15999f" stroke="none" stroke-width="0"/>
<line x1="544.4" y1="662.3" x2="576.2" y2="662.3" stroke="#a8232a" stroke-width="2.4" stroke-linecap="butt"/>
<circle cx="560.4" cy="662.3" r="8.2" fill="#a8232a" stroke="none" stroke-width="0"/>
<text transform="translate(593.25,672.10)" font-size="30.61" text-anchor="start" fill="#111" stroke="#111" stroke-width="0.5">MCAo + scrambled</text>
<text transform="translate(593.58,608.70)" font-size="30.61" text-anchor="start" fill="#111" stroke="#111" stroke-width="0.5">sham</text>
<text transform="translate(593.25,639.20)" font-size="30.61" text-anchor="start" fill="#111" stroke="#111" stroke-width="0.5">MCAo + LP17</text>
<line x1="538.1" y1="718.9" x2="538.1" y2="1011.5" stroke="#1a1a1a" stroke-width="2.2" stroke-linecap="butt"/>
<line x1="530.0" y1="1011.5" x2="977.0" y2="1011.5" stroke="#1a1a1a" stroke-width="2.4" stroke-linecap="butt"/>
<line x1="530.0" y1="1011.5" x2="538.1" y2="1011.5" stroke="#1a1a1a" stroke-width="2.2" stroke-linecap="butt"/>
<text transform="translate(494.41,1021.40) scale(1.000,1.040)" font-size="30.50" text-anchor="start" fill="#111" stroke="#111" stroke-width="0.5">20</text>
<line x1="530.0" y1="953.0" x2="538.1" y2="953.0" stroke="#1a1a1a" stroke-width="2.2" stroke-linecap="butt"/>
<text transform="translate(494.87,962.88) scale(1.000,1.040)" font-size="30.50" text-anchor="start" fill="#111" stroke="#111" stroke-width="0.5">22</text>
<line x1="530.0" y1="894.5" x2="538.1" y2="894.5" stroke="#1a1a1a" stroke-width="2.2" stroke-linecap="butt"/>
<text transform="translate(494.26,904.36) scale(1.000,1.040)" font-size="30.50" text-anchor="start" fill="#111" stroke="#111" stroke-width="0.5">24</text>
<line x1="530.0" y1="835.9" x2="538.1" y2="835.9" stroke="#1a1a1a" stroke-width="2.2" stroke-linecap="butt"/>
<text transform="translate(494.57,845.84) scale(1.000,1.040)" font-size="30.50" text-anchor="start" fill="#111" stroke="#111" stroke-width="0.5">26</text>
<line x1="530.0" y1="777.4" x2="538.1" y2="777.4" stroke="#1a1a1a" stroke-width="2.2" stroke-linecap="butt"/>
<text transform="translate(494.57,787.32) scale(1.000,1.040)" font-size="30.50" text-anchor="start" fill="#111" stroke="#111" stroke-width="0.5">28</text>
<line x1="530.0" y1="718.9" x2="538.1" y2="718.9" stroke="#1a1a1a" stroke-width="2.2" stroke-linecap="butt"/>
<text transform="translate(494.41,728.80) scale(1.000,1.040)" font-size="30.50" text-anchor="start" fill="#111" stroke="#111" stroke-width="0.5">30</text>
<line x1="569.4" y1="1011.5" x2="569.4" y2="1018.5" stroke="#1a1a1a" stroke-width="2.2" stroke-linecap="butt"/>
<text transform="translate(573.90,1034.00) rotate(-45)" font-size="30.50" text-anchor="end" fill="#111" stroke="#111" stroke-width="0.5">day 0</text>
<line x1="616.4" y1="1011.5" x2="616.4" y2="1018.5" stroke="#1a1a1a" stroke-width="2.2" stroke-linecap="butt"/>
<text transform="translate(620.90,1034.00) rotate(-45)" font-size="30.50" text-anchor="end" fill="#111" stroke="#111" stroke-width="0.5">24hr</text>
<line x1="663.4" y1="1011.5" x2="663.4" y2="1018.5" stroke="#1a1a1a" stroke-width="2.2" stroke-linecap="butt"/>
<text transform="translate(667.90,1034.00) rotate(-45)" font-size="30.50" text-anchor="end" fill="#111" stroke="#111" stroke-width="0.5">48hr</text>
<line x1="710.4" y1="1011.5" x2="710.4" y2="1018.5" stroke="#1a1a1a" stroke-width="2.2" stroke-linecap="butt"/>
<text transform="translate(714.90,1034.00) rotate(-45)" font-size="30.50" text-anchor="end" fill="#111" stroke="#111" stroke-width="0.5">72hr</text>
<line x1="757.4" y1="1011.5" x2="757.4" y2="1018.5" stroke="#1a1a1a" stroke-width="2.2" stroke-linecap="butt"/>
<text transform="translate(761.90,1034.00) rotate(-45)" font-size="30.50" text-anchor="end" fill="#111" stroke="#111" stroke-width="0.5">96hr</text>
<line x1="804.4" y1="1011.5" x2="804.4" y2="1018.5" stroke="#1a1a1a" stroke-width="2.2" stroke-linecap="butt"/>
<text transform="translate(808.90,1034.00) rotate(-45)" font-size="30.50" text-anchor="end" fill="#111" stroke="#111" stroke-width="0.5">120hr</text>
<line x1="851.4" y1="1011.5" x2="851.4" y2="1018.5" stroke="#1a1a1a" stroke-width="2.2" stroke-linecap="butt"/>
<text transform="translate(855.90,1034.00) rotate(-45)" font-size="30.50" text-anchor="end" fill="#111" stroke="#111" stroke-width="0.5">144hr</text>
<line x1="898.4" y1="1011.5" x2="898.4" y2="1018.5" stroke="#1a1a1a" stroke-width="2.2" stroke-linecap="butt"/>
<text transform="translate(902.90,1034.00) rotate(-45)" font-size="30.50" text-anchor="end" fill="#111" stroke="#111" stroke-width="0.5">day 7</text>
<line x1="945.4" y1="1011.5" x2="945.4" y2="1018.5" stroke="#1a1a1a" stroke-width="2.2" stroke-linecap="butt"/>
<text transform="translate(477.30,964.00) rotate(-90)" font-size="35.07" text-anchor="start" fill="#111" stroke="#111" stroke-width="0.5">weight (grams)</text>
<line x1="569.4" y1="875.4" x2="569.4" y2="834.5" stroke="#8e9599" stroke-width="2.4" stroke-linecap="butt"/>
<line x1="559.9" y1="875.4" x2="578.9" y2="875.4" stroke="#8e9599" stroke-width="2.8" stroke-linecap="butt"/>
<line x1="559.9" y1="834.5" x2="578.9" y2="834.5" stroke="#8e9599" stroke-width="2.8" stroke-linecap="butt"/>
<line x1="616.4" y1="903.2" x2="616.4" y2="865.2" stroke="#8e9599" stroke-width="2.4" stroke-linecap="butt"/>
<line x1="606.9" y1="903.2" x2="625.9" y2="903.2" stroke="#8e9599" stroke-width="2.8" stroke-linecap="butt"/>
<line x1="606.9" y1="865.2" x2="625.9" y2="865.2" stroke="#8e9599" stroke-width="2.8" stroke-linecap="butt"/>
<line x1="663.4" y1="910.6" x2="663.4" y2="872.5" stroke="#8e9599" stroke-width="2.4" stroke-linecap="butt"/>
<line x1="653.9" y1="910.6" x2="672.9" y2="910.6" stroke="#8e9599" stroke-width="2.8" stroke-linecap="butt"/>
<line x1="653.9" y1="872.5" x2="672.9" y2="872.5" stroke="#8e9599" stroke-width="2.8" stroke-linecap="butt"/>
<line x1="710.4" y1="926.6" x2="710.4" y2="884.2" stroke="#8e9599" stroke-width="2.4" stroke-linecap="butt"/>
<line x1="700.9" y1="926.6" x2="719.9" y2="926.6" stroke="#8e9599" stroke-width="2.8" stroke-linecap="butt"/>
<line x1="700.9" y1="884.2" x2="719.9" y2="884.2" stroke="#8e9599" stroke-width="2.8" stroke-linecap="butt"/>
<line x1="757.4" y1="906.2" x2="757.4" y2="869.6" stroke="#8e9599" stroke-width="2.4" stroke-linecap="butt"/>
<line x1="747.9" y1="906.2" x2="766.9" y2="906.2" stroke="#8e9599" stroke-width="2.8" stroke-linecap="butt"/>
<line x1="747.9" y1="869.6" x2="766.9" y2="869.6" stroke="#8e9599" stroke-width="2.8" stroke-linecap="butt"/>
<line x1="804.4" y1="893.0" x2="804.4" y2="859.3" stroke="#8e9599" stroke-width="2.4" stroke-linecap="butt"/>
<line x1="794.9" y1="893.0" x2="813.9" y2="893.0" stroke="#8e9599" stroke-width="2.8" stroke-linecap="butt"/>
<line x1="794.9" y1="859.3" x2="813.9" y2="859.3" stroke="#8e9599" stroke-width="2.8" stroke-linecap="butt"/>
<line x1="851.4" y1="885.7" x2="851.4" y2="849.1" stroke="#8e9599" stroke-width="2.4" stroke-linecap="butt"/>
<line x1="841.9" y1="885.7" x2="860.9" y2="885.7" stroke="#8e9599" stroke-width="2.8" stroke-linecap="butt"/>
<line x1="841.9" y1="849.1" x2="860.9" y2="849.1" stroke="#8e9599" stroke-width="2.8" stroke-linecap="butt"/>
<line x1="898.4" y1="878.4" x2="898.4" y2="838.9" stroke="#8e9599" stroke-width="2.4" stroke-linecap="butt"/>
<line x1="888.9" y1="878.4" x2="907.9" y2="878.4" stroke="#8e9599" stroke-width="2.8" stroke-linecap="butt"/>
<line x1="888.9" y1="838.9" x2="907.9" y2="838.9" stroke="#8e9599" stroke-width="2.8" stroke-linecap="butt"/>
<line x1="945.4" y1="853.5" x2="945.4" y2="815.5" stroke="#8e9599" stroke-width="2.4" stroke-linecap="butt"/>
<line x1="935.9" y1="853.5" x2="954.9" y2="853.5" stroke="#8e9599" stroke-width="2.8" stroke-linecap="butt"/>
<line x1="935.9" y1="815.5" x2="954.9" y2="815.5" stroke="#8e9599" stroke-width="2.8" stroke-linecap="butt"/>
<polyline points="569.4,855.0 616.4,884.2 663.4,891.5 710.4,906.2 757.4,888.6 804.4,875.4 851.4,868.1 898.4,859.3 945.4,834.5" fill="none" stroke="#8e9599" stroke-width="2.6" stroke-linejoin="round" stroke-linecap="butt"/>
<circle cx="569.4" cy="855.0" r="8.6" fill="#8e9599" stroke="none" stroke-width="0"/>
<circle cx="616.4" cy="884.2" r="8.6" fill="#8e9599" stroke="none" stroke-width="0"/>
<circle cx="663.4" cy="891.5" r="8.6" fill="#8e9599" stroke="none" stroke-width="0"/>
<circle cx="710.4" cy="906.2" r="8.6" fill="#8e9599" stroke="none" stroke-width="0"/>
<circle cx="757.4" cy="888.6" r="8.6" fill="#8e9599" stroke="none" stroke-width="0"/>
<circle cx="804.4" cy="875.4" r="8.6" fill="#8e9599" stroke="none" stroke-width="0"/>
<circle cx="851.4" cy="868.1" r="8.6" fill="#8e9599" stroke="none" stroke-width="0"/>
<circle cx="898.4" cy="859.3" r="8.6" fill="#8e9599" stroke="none" stroke-width="0"/>
<circle cx="945.4" cy="834.5" r="8.6" fill="#8e9599" stroke="none" stroke-width="0"/>
<line x1="569.4" y1="843.3" x2="569.4" y2="824.2" stroke="#15999f" stroke-width="2.4" stroke-linecap="butt"/>
<line x1="559.9" y1="843.3" x2="578.9" y2="843.3" stroke="#15999f" stroke-width="2.8" stroke-linecap="butt"/>
<line x1="559.9" y1="824.2" x2="578.9" y2="824.2" stroke="#15999f" stroke-width="2.8" stroke-linecap="butt"/>
<line x1="616.4" y1="888.6" x2="616.4" y2="859.3" stroke="#15999f" stroke-width="2.4" stroke-linecap="butt"/>
<line x1="606.9" y1="888.6" x2="625.9" y2="888.6" stroke="#15999f" stroke-width="2.8" stroke-linecap="butt"/>
<line x1="606.9" y1="859.3" x2="625.9" y2="859.3" stroke="#15999f" stroke-width="2.8" stroke-linecap="butt"/>
<line x1="663.4" y1="926.6" x2="663.4" y2="901.8" stroke="#15999f" stroke-width="2.4" stroke-linecap="butt"/>
<line x1="653.9" y1="926.6" x2="672.9" y2="926.6" stroke="#15999f" stroke-width="2.8" stroke-linecap="butt"/>
<line x1="653.9" y1="901.8" x2="672.9" y2="901.8" stroke="#15999f" stroke-width="2.8" stroke-linecap="butt"/>
<line x1="710.4" y1="958.8" x2="710.4" y2="923.7" stroke="#15999f" stroke-width="2.4" stroke-linecap="butt"/>
<line x1="700.9" y1="958.8" x2="719.9" y2="958.8" stroke="#15999f" stroke-width="2.8" stroke-linecap="butt"/>
<line x1="700.9" y1="923.7" x2="719.9" y2="923.7" stroke="#15999f" stroke-width="2.8" stroke-linecap="butt"/>
<line x1="757.4" y1="960.3" x2="757.4" y2="919.3" stroke="#15999f" stroke-width="2.4" stroke-linecap="butt"/>
<line x1="747.9" y1="960.3" x2="766.9" y2="960.3" stroke="#15999f" stroke-width="2.8" stroke-linecap="butt"/>
<line x1="747.9" y1="919.3" x2="766.9" y2="919.3" stroke="#15999f" stroke-width="2.8" stroke-linecap="butt"/>
<line x1="804.4" y1="932.5" x2="804.4" y2="897.4" stroke="#15999f" stroke-width="2.4" stroke-linecap="butt"/>
<line x1="794.9" y1="932.5" x2="813.9" y2="932.5" stroke="#15999f" stroke-width="2.8" stroke-linecap="butt"/>
<line x1="794.9" y1="897.4" x2="813.9" y2="897.4" stroke="#15999f" stroke-width="2.8" stroke-linecap="butt"/>
<line x1="851.4" y1="920.8" x2="851.4" y2="885.7" stroke="#15999f" stroke-width="2.4" stroke-linecap="butt"/>
<line x1="841.9" y1="920.8" x2="860.9" y2="920.8" stroke="#15999f" stroke-width="2.8" stroke-linecap="butt"/>
<line x1="841.9" y1="885.7" x2="860.9" y2="885.7" stroke="#15999f" stroke-width="2.8" stroke-linecap="butt"/>
<line x1="898.4" y1="920.8" x2="898.4" y2="885.7" stroke="#15999f" stroke-width="2.4" stroke-linecap="butt"/>
<line x1="888.9" y1="920.8" x2="907.9" y2="920.8" stroke="#15999f" stroke-width="2.8" stroke-linecap="butt"/>
<line x1="888.9" y1="885.7" x2="907.9" y2="885.7" stroke="#15999f" stroke-width="2.8" stroke-linecap="butt"/>
<line x1="945.4" y1="868.1" x2="945.4" y2="838.9" stroke="#15999f" stroke-width="2.4" stroke-linecap="butt"/>
<line x1="935.9" y1="868.1" x2="954.9" y2="868.1" stroke="#15999f" stroke-width="2.8" stroke-linecap="butt"/>
<line x1="935.9" y1="838.9" x2="954.9" y2="838.9" stroke="#15999f" stroke-width="2.8" stroke-linecap="butt"/>
<polyline points="569.4,831.6 616.4,874.0 663.4,914.9 710.4,939.8 757.4,938.4 804.4,913.5 851.4,903.2 898.4,903.2 945.4,853.5" fill="none" stroke="#15999f" stroke-width="2.6" stroke-linejoin="round" stroke-linecap="butt"/>
<circle cx="569.4" cy="831.6" r="8.6" fill="#15999f" stroke="none" stroke-width="0"/>
<circle cx="616.4" cy="874.0" r="8.6" fill="#15999f" stroke="none" stroke-width="0"/>
<circle cx="663.4" cy="914.9" r="8.6" fill="#15999f" stroke="none" stroke-width="0"/>
<circle cx="710.4" cy="939.8" r="8.6" fill="#15999f" stroke="none" stroke-width="0"/>
<circle cx="757.4" cy="938.4" r="8.6" fill="#15999f" stroke="none" stroke-width="0"/>
<circle cx="804.4" cy="913.5" r="8.6" fill="#15999f" stroke="none" stroke-width="0"/>
<circle cx="851.4" cy="903.2" r="8.6" fill="#15999f" stroke="none" stroke-width="0"/>
<circle cx="898.4" cy="903.2" r="8.6" fill="#15999f" stroke="none" stroke-width="0"/>
<circle cx="945.4" cy="853.5" r="8.6" fill="#15999f" stroke="none" stroke-width="0"/>
<line x1="569.4" y1="827.2" x2="569.4" y2="800.8" stroke="#a8232a" stroke-width="2.4" stroke-linecap="butt"/>
<line x1="559.9" y1="827.2" x2="578.9" y2="827.2" stroke="#a8232a" stroke-width="2.8" stroke-linecap="butt"/>
<line x1="559.9" y1="800.8" x2="578.9" y2="800.8" stroke="#a8232a" stroke-width="2.8" stroke-linecap="butt"/>
<line x1="616.4" y1="871.1" x2="616.4" y2="850.6" stroke="#a8232a" stroke-width="2.4" stroke-linecap="butt"/>
<line x1="606.9" y1="871.1" x2="625.9" y2="871.1" stroke="#a8232a" stroke-width="2.8" stroke-linecap="butt"/>
<line x1="606.9" y1="850.6" x2="625.9" y2="850.6" stroke="#a8232a" stroke-width="2.8" stroke-linecap="butt"/>
<line x1="663.4" y1="932.5" x2="663.4" y2="906.2" stroke="#a8232a" stroke-width="2.4" stroke-linecap="butt"/>
<line x1="653.9" y1="932.5" x2="672.9" y2="932.5" stroke="#a8232a" stroke-width="2.8" stroke-linecap="butt"/>
<line x1="653.9" y1="906.2" x2="672.9" y2="906.2" stroke="#a8232a" stroke-width="2.8" stroke-linecap="butt"/>
<line x1="710.4" y1="954.4" x2="710.4" y2="925.2" stroke="#a8232a" stroke-width="2.4" stroke-linecap="butt"/>
<line x1="700.9" y1="954.4" x2="719.9" y2="954.4" stroke="#a8232a" stroke-width="2.8" stroke-linecap="butt"/>
<line x1="700.9" y1="925.2" x2="719.9" y2="925.2" stroke="#a8232a" stroke-width="2.8" stroke-linecap="butt"/>
<line x1="757.4" y1="964.7" x2="757.4" y2="925.2" stroke="#a8232a" stroke-width="2.4" stroke-linecap="butt"/>
<line x1="747.9" y1="964.7" x2="766.9" y2="964.7" stroke="#a8232a" stroke-width="2.8" stroke-linecap="butt"/>
<line x1="747.9" y1="925.2" x2="766.9" y2="925.2" stroke="#a8232a" stroke-width="2.8" stroke-linecap="butt"/>
<line x1="804.4" y1="955.9" x2="804.4" y2="906.2" stroke="#a8232a" stroke-width="2.4" stroke-linecap="butt"/>
<line x1="794.9" y1="955.9" x2="813.9" y2="955.9" stroke="#a8232a" stroke-width="2.8" stroke-linecap="butt"/>
<line x1="794.9" y1="906.2" x2="813.9" y2="906.2" stroke="#a8232a" stroke-width="2.8" stroke-linecap="butt"/>
<line x1="851.4" y1="948.6" x2="851.4" y2="890.1" stroke="#a8232a" stroke-width="2.4" stroke-linecap="butt"/>
<line x1="841.9" y1="948.6" x2="860.9" y2="948.6" stroke="#a8232a" stroke-width="2.8" stroke-linecap="butt"/>
<line x1="841.9" y1="890.1" x2="860.9" y2="890.1" stroke="#a8232a" stroke-width="2.8" stroke-linecap="butt"/>
<line x1="898.4" y1="944.2" x2="898.4" y2="900.3" stroke="#a8232a" stroke-width="2.4" stroke-linecap="butt"/>
<line x1="888.9" y1="944.2" x2="907.9" y2="944.2" stroke="#a8232a" stroke-width="2.8" stroke-linecap="butt"/>
<line x1="888.9" y1="900.3" x2="907.9" y2="900.3" stroke="#a8232a" stroke-width="2.8" stroke-linecap="butt"/>
<line x1="945.4" y1="866.7" x2="945.4" y2="847.6" stroke="#a8232a" stroke-width="2.4" stroke-linecap="butt"/>
<line x1="935.9" y1="866.7" x2="954.9" y2="866.7" stroke="#a8232a" stroke-width="2.8" stroke-linecap="butt"/>
<line x1="935.9" y1="847.6" x2="954.9" y2="847.6" stroke="#a8232a" stroke-width="2.8" stroke-linecap="butt"/>
<polyline points="569.4,814.0 616.4,860.8 663.4,922.3 710.4,939.8 757.4,944.2 804.4,931.0 851.4,919.3 898.4,920.8 945.4,852.0" fill="none" stroke="#a8232a" stroke-width="2.6" stroke-linejoin="round" stroke-linecap="butt"/>
<circle cx="569.4" cy="814.0" r="8.6" fill="#a8232a" stroke="none" stroke-width="0"/>
<circle cx="616.4" cy="860.8" r="8.6" fill="#a8232a" stroke="none" stroke-width="0"/>
<circle cx="663.4" cy="922.3" r="8.6" fill="#a8232a" stroke="none" stroke-width="0"/>
<circle cx="710.4" cy="939.8" r="8.6" fill="#a8232a" stroke="none" stroke-width="0"/>
<circle cx="757.4" cy="944.2" r="8.6" fill="#a8232a" stroke="none" stroke-width="0"/>
<circle cx="804.4" cy="931.0" r="8.6" fill="#a8232a" stroke="none" stroke-width="0"/>
<circle cx="851.4" cy="919.3" r="8.6" fill="#a8232a" stroke="none" stroke-width="0"/>
<circle cx="898.4" cy="920.8" r="8.6" fill="#a8232a" stroke="none" stroke-width="0"/>
<circle cx="945.4" cy="852.0" r="8.6" fill="#a8232a" stroke="none" stroke-width="0"/>
<text transform="translate(1030.52,606.80)" font-size="54.50" text-anchor="start" fill="#111" stroke="#111" stroke-width="0.5">g</text>
<line x1="1241.0" y1="587.9" x2="1272.8" y2="587.9" stroke="#8e9599" stroke-width="2.4" stroke-linecap="butt"/>
<circle cx="1256.9" cy="587.9" r="8.1" fill="#8e9599" stroke="none" stroke-width="0"/>
<line x1="1241.0" y1="618.8" x2="1272.8" y2="618.8" stroke="#15999f" stroke-width="2.4" stroke-linecap="butt"/>
<circle cx="1256.9" cy="618.8" r="8.1" fill="#15999f" stroke="none" stroke-width="0"/>
<line x1="1241.0" y1="651.7" x2="1272.8" y2="651.7" stroke="#a8232a" stroke-width="2.4" stroke-linecap="butt"/>
<circle cx="1256.9" cy="651.7" r="8.1" fill="#a8232a" stroke="none" stroke-width="0"/>
<text transform="translate(1289.37,660.70)" font-size="30.42" text-anchor="start" fill="#111" stroke="#111" stroke-width="0.5">MCAo + scrambled</text>
<text transform="translate(1290.49,596.90)" font-size="30.42" text-anchor="start" fill="#111" stroke="#111" stroke-width="0.5">sham</text>
<text transform="translate(1289.37,628.80)" font-size="30.42" text-anchor="start" fill="#111" stroke="#111" stroke-width="0.5">MCAo + LP17</text>
<line x1="1139.3" y1="738.4" x2="1139.3" y2="1008.7" stroke="#1a1a1a" stroke-width="2.2" stroke-linecap="butt"/>
<line x1="1134.3" y1="1008.7" x2="1319.2" y2="1008.7" stroke="#1a1a1a" stroke-width="2.4" stroke-linecap="butt"/>
<line x1="1134.3" y1="1008.7" x2="1139.3" y2="1008.7" stroke="#1a1a1a" stroke-width="2.2" stroke-linecap="butt"/>
<text transform="translate(1119.34,1017.20) scale(1.000,1.040)" font-size="30.50" text-anchor="start" fill="#111" stroke="#111" stroke-width="0.5">0</text>
<line x1="1134.3" y1="918.6" x2="1139.3" y2="918.6" stroke="#1a1a1a" stroke-width="2.2" stroke-linecap="butt"/>
<text transform="translate(1119.49,927.10) scale(1.000,1.040)" font-size="30.50" text-anchor="start" fill="#111" stroke="#111" stroke-width="0.5">5</text>
<line x1="1134.3" y1="828.5" x2="1139.3" y2="828.5" stroke="#1a1a1a" stroke-width="2.2" stroke-linecap="butt"/>
<text transform="translate(1102.41,837.00) scale(1.000,1.040)" font-size="30.50" text-anchor="start" fill="#111" stroke="#111" stroke-width="0.5">10</text>
<line x1="1134.3" y1="738.4" x2="1139.3" y2="738.4" stroke="#1a1a1a" stroke-width="2.2" stroke-linecap="butt"/>
<text transform="translate(1102.57,746.90) scale(1.000,1.040)" font-size="30.50" text-anchor="start" fill="#111" stroke="#111" stroke-width="0.5">15</text>
<line x1="1169.2" y1="1008.7" x2="1169.2" y2="1014.7" stroke="#1a1a1a" stroke-width="2.2" stroke-linecap="butt"/>
<text transform="translate(1152.60,1068.70) rotate(-45)" font-size="31.00" text-anchor="middle" fill="#111" stroke="#111" stroke-width="0.5">day 0</text>
<line x1="1228.9" y1="1008.7" x2="1228.9" y2="1014.7" stroke="#1a1a1a" stroke-width="2.2" stroke-linecap="butt"/>
<text transform="translate(1212.30,1068.70) rotate(-45)" font-size="31.00" text-anchor="middle" fill="#111" stroke="#111" stroke-width="0.5">day 7</text>
<line x1="1288.7" y1="1008.7" x2="1288.7" y2="1014.7" stroke="#1a1a1a" stroke-width="2.2" stroke-linecap="butt"/>
<text transform="translate(1272.10,1068.70) rotate(-45)" font-size="31.00" text-anchor="middle" fill="#111" stroke="#111" stroke-width="0.5">day 14</text>
<polyline points="1169.2,1008.7 1228.9,1007.8 1288.7,1008.7" fill="none" stroke="#8e9599" stroke-width="2.2" stroke-linejoin="round" stroke-linecap="butt"/>
<circle cx="1169.2" cy="1008.7" r="7.3" fill="#8e9599" stroke="none" stroke-width="0"/>
<circle cx="1228.9" cy="1007.8" r="7.3" fill="#8e9599" stroke="none" stroke-width="0"/>
<circle cx="1288.7" cy="1008.7" r="7.3" fill="#8e9599" stroke="none" stroke-width="0"/>
<line x1="1228.9" y1="1006.0" x2="1228.9" y2="1004.2" stroke="#a8232a" stroke-width="2.4" stroke-linecap="butt"/>
<line x1="1222.4" y1="1004.2" x2="1235.4" y2="1004.2" stroke="#a8232a" stroke-width="2.8" stroke-linecap="butt"/>
<line x1="1222.4" y1="1006.0" x2="1235.4" y2="1006.0" stroke="#a8232a" stroke-width="2.8" stroke-linecap="butt"/>
<polyline points="1169.2,1008.7 1228.9,1005.1 1288.7,1007.8" fill="none" stroke="#a8232a" stroke-width="2.2" stroke-linejoin="round" stroke-linecap="butt"/>
<rect x="1162.9" y="1002.4" width="12.6" height="12.6" rx="2.5" fill="#a8232a"/>
<rect x="1222.6" y="998.8" width="12.6" height="12.6" rx="2.5" fill="#a8232a"/>
<rect x="1282.4" y="1001.5" width="12.6" height="12.6" rx="2.5" fill="#a8232a"/>
<line x1="1228.9" y1="999.7" x2="1228.9" y2="990.7" stroke="#15999f" stroke-width="2.4" stroke-linecap="butt"/>
<line x1="1222.4" y1="990.7" x2="1235.4" y2="990.7" stroke="#15999f" stroke-width="2.8" stroke-linecap="butt"/>
<line x1="1222.4" y1="999.7" x2="1235.4" y2="999.7" stroke="#15999f" stroke-width="2.8" stroke-linecap="butt"/>
<polyline points="1169.2,1006.0 1228.9,995.2 1288.7,1006.0" fill="none" stroke="#15999f" stroke-width="2.2" stroke-linejoin="round" stroke-linecap="butt"/>
<circle cx="1169.2" cy="1006.0" r="7.3" fill="#15999f" stroke="none" stroke-width="0"/>
<circle cx="1228.9" cy="995.2" r="7.3" fill="#15999f" stroke="none" stroke-width="0"/>
<circle cx="1288.7" cy="1006.0" r="7.3" fill="#15999f" stroke="none" stroke-width="0"/>
<text transform="translate(1162.49,730.60)" font-size="33.82" text-anchor="start" fill="#111" stroke="#111" stroke-width="0.5">L front paw</text>
<text transform="translate(1097.90,976.32) rotate(-90)" font-size="34.15" text-anchor="start" fill="#111" stroke="#111" stroke-width="0.5">number of slips</text>
<line x1="1464.3" y1="734.2" x2="1464.3" y2="1004.4" stroke="#1a1a1a" stroke-width="2.2" stroke-linecap="butt"/>
<line x1="1459.3" y1="1004.4" x2="1643.6" y2="1004.4" stroke="#1a1a1a" stroke-width="2.4" stroke-linecap="butt"/>
<line x1="1459.3" y1="1004.4" x2="1464.3" y2="1004.4" stroke="#1a1a1a" stroke-width="2.2" stroke-linecap="butt"/>
<text transform="translate(1439.74,1012.90) scale(1.000,1.040)" font-size="30.50" text-anchor="start" fill="#111" stroke="#111" stroke-width="0.5">0</text>
<line x1="1459.3" y1="914.3" x2="1464.3" y2="914.3" stroke="#1a1a1a" stroke-width="2.2" stroke-linecap="butt"/>
<text transform="translate(1439.89,922.83) scale(1.000,1.040)" font-size="30.50" text-anchor="start" fill="#111" stroke="#111" stroke-width="0.5">5</text>
<line x1="1459.3" y1="824.3" x2="1464.3" y2="824.3" stroke="#1a1a1a" stroke-width="2.2" stroke-linecap="butt"/>
<text transform="translate(1422.81,832.77) scale(1.000,1.040)" font-size="30.50" text-anchor="start" fill="#111" stroke="#111" stroke-width="0.5">10</text>
<line x1="1459.3" y1="734.2" x2="1464.3" y2="734.2" stroke="#1a1a1a" stroke-width="2.2" stroke-linecap="butt"/>
<text transform="translate(1422.96,742.70) scale(1.000,1.040)" font-size="30.50" text-anchor="start" fill="#111" stroke="#111" stroke-width="0.5">15</text>
<line x1="1494.1" y1="1004.4" x2="1494.1" y2="1010.4" stroke="#1a1a1a" stroke-width="2.2" stroke-linecap="butt"/>
<text transform="translate(1477.50,1064.40) rotate(-45)" font-size="31.00" text-anchor="middle" fill="#111" stroke="#111" stroke-width="0.5">day 0</text>
<line x1="1554.0" y1="1004.4" x2="1554.0" y2="1010.4" stroke="#1a1a1a" stroke-width="2.2" stroke-linecap="butt"/>
<text transform="translate(1537.40,1064.40) rotate(-45)" font-size="31.00" text-anchor="middle" fill="#111" stroke="#111" stroke-width="0.5">day 7</text>
<line x1="1614.2" y1="1004.4" x2="1614.2" y2="1010.4" stroke="#1a1a1a" stroke-width="2.2" stroke-linecap="butt"/>
<text transform="translate(1597.60,1064.40) rotate(-45)" font-size="31.00" text-anchor="middle" fill="#111" stroke="#111" stroke-width="0.5">day 14</text>
<polyline points="1494.1,993.6 1554.0,1000.8 1614.2,1002.6" fill="none" stroke="#8e9599" stroke-width="2.2" stroke-linejoin="round" stroke-linecap="butt"/>
<circle cx="1494.1" cy="993.6" r="7.3" fill="#8e9599" stroke="none" stroke-width="0"/>
<circle cx="1554.0" cy="1000.8" r="7.3" fill="#8e9599" stroke="none" stroke-width="0"/>
<circle cx="1614.2" cy="1002.6" r="7.3" fill="#8e9599" stroke="none" stroke-width="0"/>
<line x1="1494.1" y1="996.3" x2="1494.1" y2="992.7" stroke="#15999f" stroke-width="2.4" stroke-linecap="butt"/>
<line x1="1487.6" y1="992.7" x2="1500.6" y2="992.7" stroke="#15999f" stroke-width="2.8" stroke-linecap="butt"/>
<line x1="1487.6" y1="996.3" x2="1500.6" y2="996.3" stroke="#15999f" stroke-width="2.8" stroke-linecap="butt"/>
<line x1="1554.0" y1="998.8" x2="1554.0" y2="995.2" stroke="#15999f" stroke-width="2.4" stroke-linecap="butt"/>
<line x1="1547.5" y1="995.2" x2="1560.5" y2="995.2" stroke="#15999f" stroke-width="2.8" stroke-linecap="butt"/>
<line x1="1547.5" y1="998.8" x2="1560.5" y2="998.8" stroke="#15999f" stroke-width="2.8" stroke-linecap="butt"/>
<line x1="1614.2" y1="999.0" x2="1614.2" y2="988.2" stroke="#15999f" stroke-width="2.4" stroke-linecap="butt"/>
<line x1="1607.7" y1="988.2" x2="1620.7" y2="988.2" stroke="#15999f" stroke-width="2.8" stroke-linecap="butt"/>
<line x1="1607.7" y1="999.0" x2="1620.7" y2="999.0" stroke="#15999f" stroke-width="2.8" stroke-linecap="butt"/>
<polyline points="1494.1,994.5 1554.0,997.0 1614.2,993.6" fill="none" stroke="#15999f" stroke-width="2.2" stroke-linejoin="round" stroke-linecap="butt"/>
<circle cx="1494.1" cy="994.5" r="7.3" fill="#15999f" stroke="none" stroke-width="0"/>
<circle cx="1554.0" cy="997.0" r="7.3" fill="#15999f" stroke="none" stroke-width="0"/>
<circle cx="1614.2" cy="993.6" r="7.3" fill="#15999f" stroke="none" stroke-width="0"/>
<line x1="1494.1" y1="993.2" x2="1494.1" y2="982.4" stroke="#a8232a" stroke-width="2.4" stroke-linecap="butt"/>
<line x1="1487.6" y1="982.4" x2="1500.6" y2="982.4" stroke="#a8232a" stroke-width="2.8" stroke-linecap="butt"/>
<line x1="1487.6" y1="993.2" x2="1500.6" y2="993.2" stroke="#a8232a" stroke-width="2.8" stroke-linecap="butt"/>
<line x1="1554.0" y1="983.3" x2="1554.0" y2="969.3" stroke="#a8232a" stroke-width="2.4" stroke-linecap="butt"/>
<line x1="1547.5" y1="969.3" x2="1560.5" y2="969.3" stroke="#a8232a" stroke-width="2.8" stroke-linecap="butt"/>
<line x1="1547.5" y1="983.3" x2="1560.5" y2="983.3" stroke="#a8232a" stroke-width="2.8" stroke-linecap="butt"/>
<line x1="1614.2" y1="999.7" x2="1614.2" y2="988.9" stroke="#a8232a" stroke-width="2.4" stroke-linecap="butt"/>
<line x1="1607.7" y1="988.9" x2="1620.7" y2="988.9" stroke="#a8232a" stroke-width="2.8" stroke-linecap="butt"/>
<line x1="1607.7" y1="999.7" x2="1620.7" y2="999.7" stroke="#a8232a" stroke-width="2.8" stroke-linecap="butt"/>
<polyline points="1494.1,987.8 1554.0,976.3 1614.2,994.3" fill="none" stroke="#a8232a" stroke-width="2.2" stroke-linejoin="round" stroke-linecap="butt"/>
<rect x="1487.8" y="981.5" width="12.6" height="12.6" rx="2.5" fill="#a8232a"/>
<rect x="1547.7" y="970.0" width="12.6" height="12.6" rx="2.5" fill="#a8232a"/>
<rect x="1607.9" y="988.0" width="12.6" height="12.6" rx="2.5" fill="#a8232a"/>
<text transform="translate(1483.08,730.60)" font-size="34.03" text-anchor="start" fill="#111" stroke="#111" stroke-width="0.5">L hind paw</text>
<text transform="translate(1408.30,976.05) rotate(-90)" font-size="33.14" text-anchor="start" fill="#111" stroke="#111" stroke-width="0.5">number of slips</text>
</g>
</svg>
</body></html>
